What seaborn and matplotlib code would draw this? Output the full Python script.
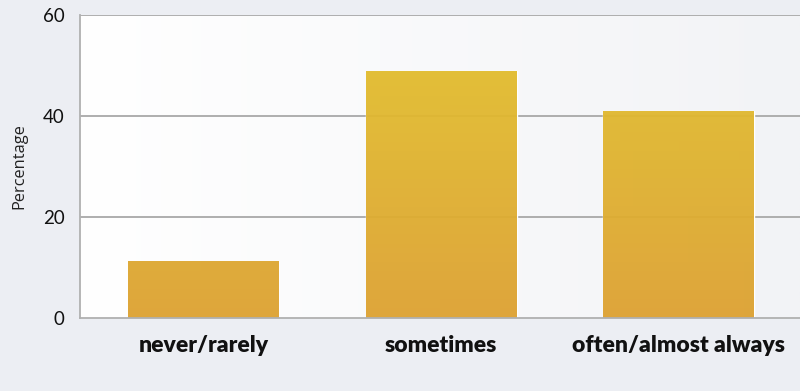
import numpy as np
import pandas as pd
import matplotlib
matplotlib.use("Agg")
import matplotlib.pyplot as plt
import seaborn as sns
from matplotlib.colors import LinearSegmentedColormap

categories = ["never/rarely", "sometimes", "often/almost always"]
values = [11.3, 49.0, 41.0]
yticks = [0, 20, 40, 60]

df = pd.DataFrame({"category": categories, "value": values})

sns.set_theme(style="white")
plt.rcParams["font.family"] = ["Open Sans", "DejaVu Sans"]

fig = plt.figure(figsize=(8, 3.91), dpi=100)
fig.patch.set_facecolor("#eceef3")
ax = fig.add_axes([0.1, 0.1867, 0.9, 0.775])

sns.barplot(data=df, x="category", y="value", ax=ax, color="#dfae31",
            width=0.635, saturation=1, zorder=3)

ax.set_ylim(0, 60)
ax.set_xlim(-0.52, 2.51)
ax.set_yticks(yticks)
ax.set_yticklabels([str(t) for t in yticks], fontsize=13.5, color="#111111",
                   family=["Lato", "DejaVu Sans"])
ax.tick_params(axis="y", length=0, pad=11)
ax.tick_params(axis="x", length=0, pad=12)
for lbl in ax.get_xticklabels():
    lbl.set_fontweight("heavy")
    lbl.set_family(["Lato", "DejaVu Sans"])
    lbl.set_fontsize(16.5)
    lbl.set_color("#111111")
ax.set_xlabel("")
ax.set_ylabel("Percentage", fontsize=11.8, color="#222222")
ax.yaxis.set_label_coords(-0.0736, 0.5)

# plot-area background gradient
bg = LinearSegmentedColormap.from_list("bg", ["#ffffff", "#f2f3f6"])
ax.set_facecolor("none")
ax.imshow(np.linspace(0, 1, 256).reshape(1, -1), cmap=bg, aspect="auto",
          extent=[-0.52, 2.51, 0, 60], zorder=0)

# grid
for t in yticks[1:]:
    ax.axhline(t, color="#a8a8a8", lw=1.3, zorder=2)

# bar gradient (shared across bars, in data space)
bar_cmap = LinearSegmentedColormap.from_list("bar", ["#dda233", "#e2c02f"])
for p in list(ax.patches):
    x0, w = p.get_x(), p.get_width()
    im = ax.imshow(np.linspace(0, 1, 256).reshape(-1, 1), cmap=bar_cmap,
                   origin="lower", aspect="auto", alpha=0.96,
                   extent=[x0, x0 + w, 0, 55], zorder=3.5)
    im.set_clip_path(p)
    p.set_facecolor("none")
ax.set_xlim(-0.52, 2.51)
ax.set_ylim(0, 60)

for s in ["top", "right"]:
    ax.spines[s].set_visible(False)
for s in ["left", "bottom"]:
    ax.spines[s].set_color("#b0b0b0")
    ax.spines[s].set_linewidth(1.3)
    ax.spines[s].set_zorder(5)

fig.savefig("out.png", dpi=100, facecolor=fig.get_facecolor())
